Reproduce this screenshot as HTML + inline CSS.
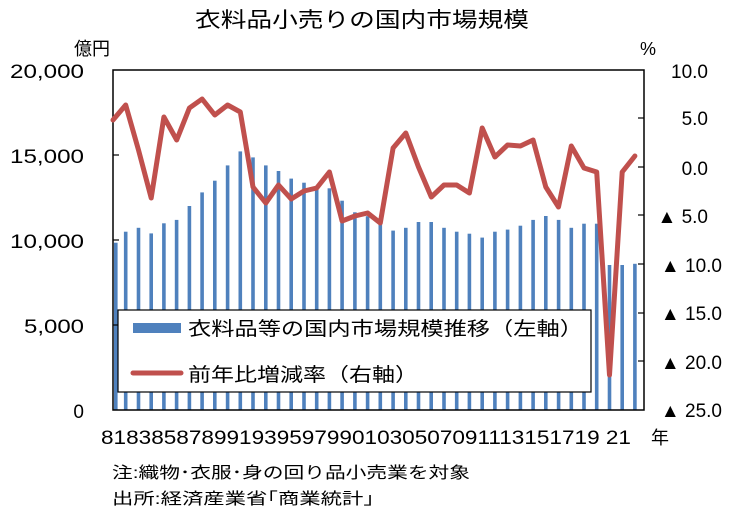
<!DOCTYPE html>
<html><head><meta charset="utf-8"><style>
html,body{margin:0;padding:0;background:#fff;}
svg{display:block;font-family:"Liberation Sans","Noto Sans CJK JP",sans-serif;}
</style></head><body>
<svg id="sv" width="750" height="516" viewBox="0 0 750 516" xmlns="http://www.w3.org/2000/svg">
<text x="362" y="27" font-size="21" text-anchor="middle" textLength="334" lengthAdjust="spacingAndGlyphs">衣料品小売りの国内市場規模</text>
<text x="74" y="55" font-size="18">億円</text>
<text x="640" y="55" font-size="18">%</text>
<g font-size="19" text-anchor="end">
<text x="84" y="78" textLength="74" lengthAdjust="spacingAndGlyphs">20,000</text>
<text x="84" y="163" textLength="74" lengthAdjust="spacingAndGlyphs">15,000</text>
<text x="84" y="248" textLength="74" lengthAdjust="spacingAndGlyphs">10,000</text>
<text x="84" y="333" textLength="60" lengthAdjust="spacingAndGlyphs">5,000</text>
<text x="84" y="418">0</text>
</g>
<g font-size="19" text-anchor="end">
<text x="708" y="78">10.0</text>
<text x="708" y="125">5.0</text>
<text x="708" y="175">0.0</text>
<text x="708" y="223">▲ 5.0</text>
<text x="722" y="272">▲ 10.0</text>
<text x="722" y="320">▲ 15.0</text>
<text x="722" y="369">▲ 20.0</text>
<text x="722" y="417">▲ 25.0</text>
</g>
<g id="bars" fill="#4f81bd"></g>
<rect x="113" y="70" width="531" height="340" fill="none" stroke="#000" stroke-width="1.5"/>
<g stroke="#000" stroke-width="1.2">
<line x1="113" y1="155" x2="119" y2="155"/><line x1="113" y1="240" x2="119" y2="240"/><line x1="113" y1="325" x2="119" y2="325"/>
<line x1="638" y1="118" x2="644" y2="118"/><line x1="638" y1="167" x2="644" y2="167"/><line x1="638" y1="215" x2="644" y2="215"/><line x1="638" y1="264" x2="644" y2="264"/><line x1="638" y1="313" x2="644" y2="313"/><line x1="638" y1="361" x2="644" y2="361"/>
</g>
<polyline id="ln" fill="none" stroke="#c0504d" stroke-width="5" stroke-linejoin="round" stroke-linecap="round"/>
<rect x="118" y="310" width="473" height="82" fill="#fff" stroke="#000" stroke-width="1.2"/>
<rect x="133" y="323" width="48" height="10" fill="#4f81bd"/>
<text x="188" y="335" font-size="19" textLength="395" lengthAdjust="spacingAndGlyphs">衣料品等の国内市場規模推移（左軸）</text>
<line x1="133" y1="373" x2="181" y2="373" stroke="#c0504d" stroke-width="5" stroke-linecap="round"/>
<text x="188" y="381" font-size="19" textLength="230" lengthAdjust="spacingAndGlyphs">前年比増減率（右軸）</text>
<text x="101" y="444" font-size="19" textLength="530" lengthAdjust="spacingAndGlyphs">8183858789919395979901030507091113151719 21</text>
<text x="651" y="444" font-size="18">年</text>
<text x="112" y="478" font-size="16" textLength="358" lengthAdjust="spacingAndGlyphs">注:織物･衣服･身の回り品小売業を対象</text>
<text x="112" y="504" font-size="16" textLength="262" lengthAdjust="spacingAndGlyphs">出所:経済産業省｢商業統計｣</text>
</svg>
<script>
var NS="http://www.w3.org/2000/svg";
var v=[9840,10490,10720,10390,10980,11180,12000,12800,13490,14390,15210,14860,14390,14060,13610,13370,13140,13040,12310,11630,11400,11080,10550,10720,11060,11060,10720,10490,10370,10140,10490,10610,10840,11180,11410,11180,10720,10960,10960,8530,8530,8600];
var ly=[120,105,150,198,117,140,108,99,115,105,112,187,203,185,199,191,188,172,221,216,213,223,148,133,167,197,185,185,193,128,157,145,146,140,187,207,146,168,172,375,172,156];
var g=document.getElementById('bars'),p=[];
for(var i=0;i<42;i++){var x=113+12.73*i,h=v[i]*0.017;
var bx=Math.max(x-1.8,114);
var r=document.createElementNS(NS,'rect');
r.setAttribute('x',bx.toFixed(1));r.setAttribute('y',(410-h).toFixed(1));
r.setAttribute('width','3.6');r.setAttribute('height',h.toFixed(1));r.setAttribute('fill','#4f81bd');
g.appendChild(r);p.push(x.toFixed(1)+','+ly[i]);}
document.getElementById('ln').setAttribute('points',p.join(' '));
</script>
</body></html>
